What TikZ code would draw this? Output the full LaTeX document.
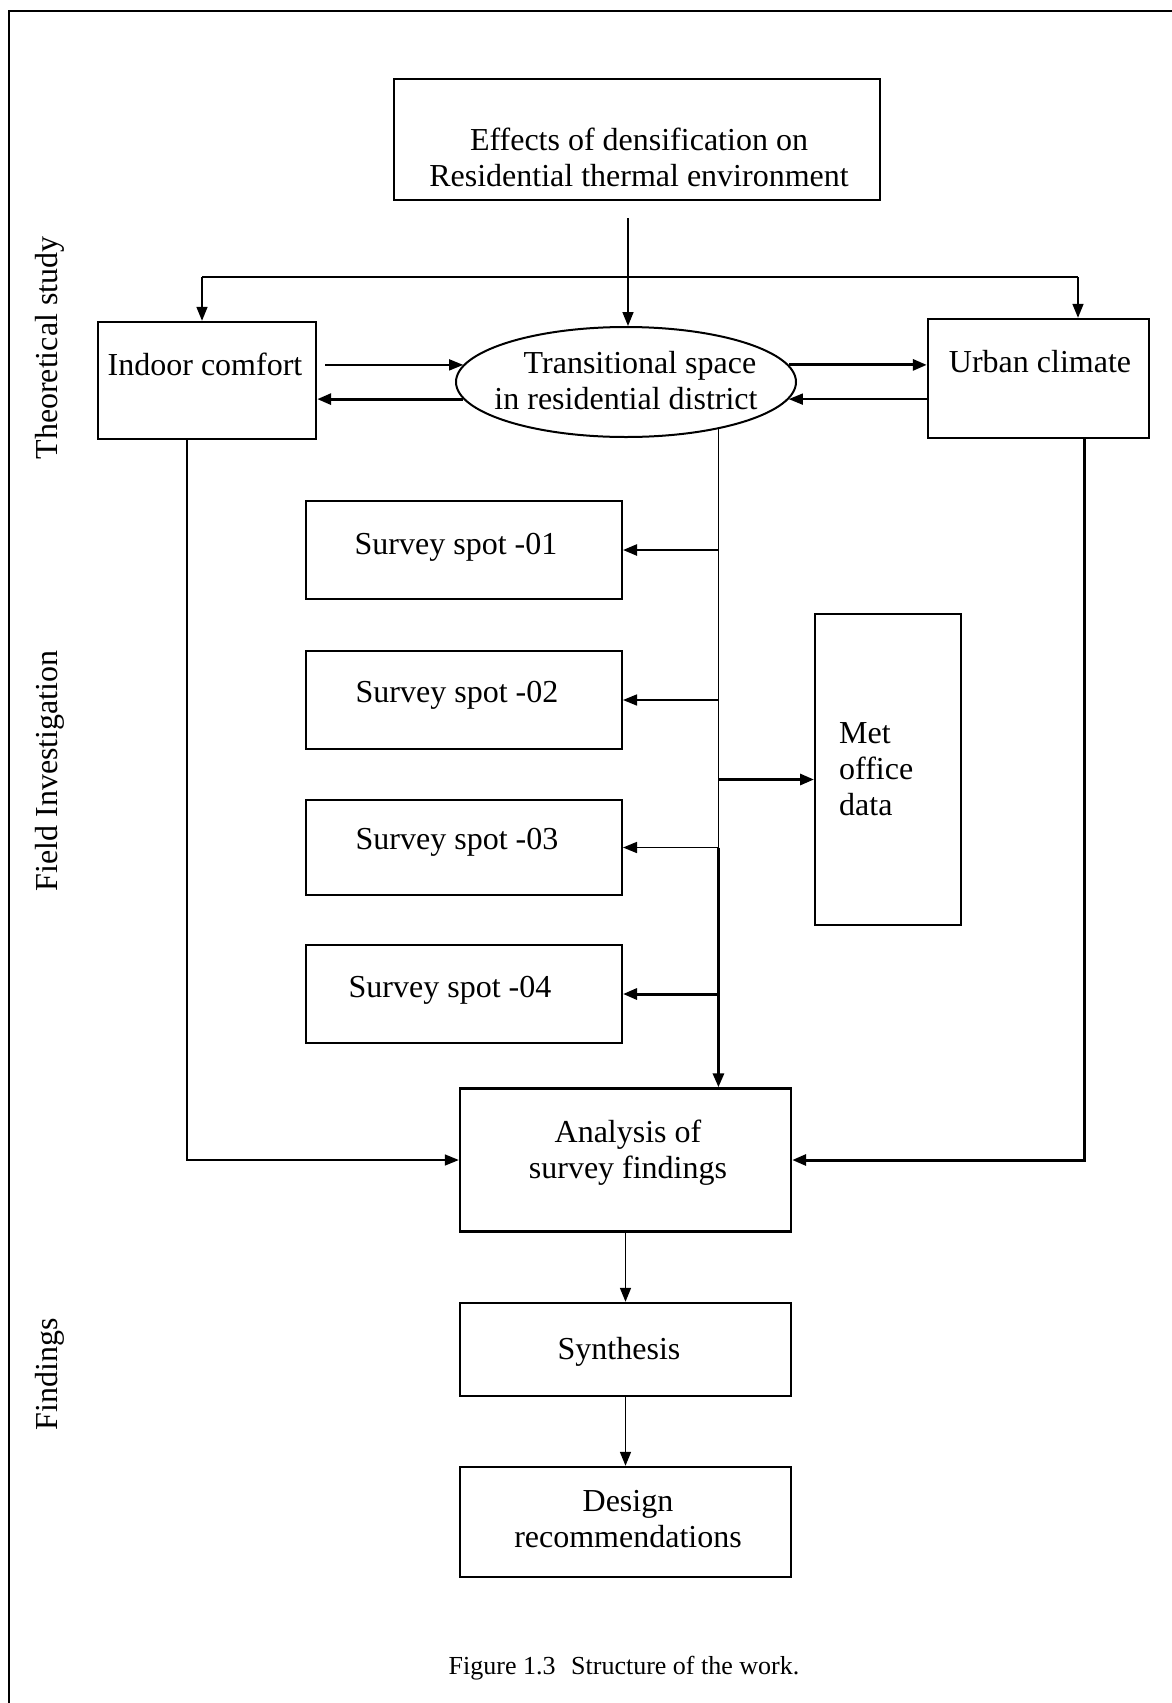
\documentclass[tikz,border=0pt]{standalone}
\usepackage{fontspec}
\setmainfont{Liberation Serif}
\usetikzlibrary{arrows.meta,shapes.geometric}
\begin{document}
\begin{tikzpicture}[x=1pt,y=-1pt,
  bx/.style={draw, line width=2.4pt, inner sep=0pt},
  sbx/.style={draw, line width=2pt, inner sep=0pt},
  lbl/.style={font=\fontsize{32}{36}\selectfont, align=center, inner sep=0pt},
  side/.style={font=\fontsize{32}{36}\selectfont, rotate=90, inner sep=0pt},
  ln/.style={line width=1.6pt},
  tarr/.style={line width=1.6pt, -{Triangle[length=14pt,width=11pt]}},
  Tarr/.style={line width=3pt, -{Triangle[length=14pt,width=11pt]}},
]
\useasboundingbox (0,0) rectangle (1172,1703);
\fill[white] (0,0) rectangle (1172,1703);
% frame
\coordinate (fbl) at (9,1703);
\coordinate (ftl) at (9,11);
\coordinate (ftr) at (1172,11);
\draw[line width=2pt] (fbl) -- (ftl) -- (ftr);

% boxes
\node[bx, minimum width=486pt, minimum height=121pt] (top) at (637,139.5) {};
\node[bx, minimum width=218pt, minimum height=117pt] (indoor) at (207,380.5) {};
\node[bx, minimum width=221pt, minimum height=119pt] (urban) at (1038.5,378.5) {};
\node[ellipse, draw, line width=2pt, minimum width=340pt, minimum height=110pt, inner sep=0pt] (ell) at (626,382) {};
\node[sbx, minimum width=316pt, minimum height=98pt] (s1) at (464,550) {};
\node[sbx, minimum width=316pt, minimum height=98pt] (s2) at (464,700) {};
\node[sbx, minimum width=316pt, minimum height=95pt] (s3) at (464,847.5) {};
\node[sbx, minimum width=316pt, minimum height=98pt] (s4) at (464,994) {};
\node[sbx, minimum width=146pt, minimum height=311pt] (met) at (888,769.5) {};
\node[bx, minimum width=331pt, minimum height=143pt] (anal) at (625.5,1160) {};
\node[bx, minimum width=331pt, minimum height=93pt] (synth) at (625.5,1349.5) {};
\node[bx, minimum width=331pt, minimum height=110pt] (design) at (625.5,1522) {};

% texts
\node[lbl] (toptxt) at (639,157.5) {Effects of densification on\\Residential thermal environment};
\node[lbl] (indtxt) at (205,364) {Indoor comfort};
\node[lbl] (urbtxt) at (1040,362) {Urban climate};
\node[lbl] (elltxt) at (626,381) {\hspace*{28pt}Transitional space\\in residential district};
\node[lbl] (s1txt) at (456,547) {Survey spot -01};
\node[lbl] (s2txt) at (457,695) {Survey spot -02};
\node[lbl] (s3txt) at (457,842.5) {Survey spot -03};
\node[lbl] (s4txt) at (450,990) {Survey spot -04};
\node[lbl, align=left, anchor=west] (mettxt) at (839,769) {Met\\office\\data};
\node[lbl] (antxt) at (628,1153) {Analysis of\\survey findings};
\node[lbl] (syntxt) at (619,1352) {Synthesis};
\node[lbl] (destxt) at (628,1519) {Design\\recommendations};
\node[side] (lab1) at (50,348) {Theoretical study};
\node[side] (lab2) at (50,771) {Field Investigation};
\node[side] (lab3) at (50,1374) {Findings};
\node[font=\fontsize{26}{30}\selectfont, inner sep=0pt] (cap) at (624,1668) {Figure 1.3\hspace{0.6em}Structure of the work.};

% top connectors
\coordinate (tv) at (628,218);
\draw[tarr] (tv) -- (tv |- ell.north);
\coordinate (hlL) at (202,277);
\coordinate (hlR) at (1078,277);
\draw[ln, line width=2pt] (hlL) -- (hlR);
\draw[tarr] (hlL) -- (hlL |- indoor.north);
\draw[tarr] (hlR) -- (hlR |- urban.north);

% ellipse connectors
\draw[tarr, shorten <=8pt] (indoor.east |- ell.174) -- (ell.174);
\draw[Tarr] (ell.186) -- (indoor.east |- ell.186);
\draw[Tarr] (ell.6) -- (urban.west |- ell.6);
\draw[tarr] (urban.west |- ell.354) -- (ell.354);

% central vertical
\draw[ln] (ell.333) -- (ell.333 |- s3.east);
\draw[Tarr] (ell.333 |- s3.east) -- (ell.333 |- anal.north);
\draw[Tarr, line width=2.4pt] (ell.333 |- s1.east) -- (s1.east);
\draw[tarr] (ell.333 |- s2.east) -- (s2.east);
\draw[tarr] (ell.333 |- s3.east) -- (s3.east);
\draw[Tarr] (ell.333 |- s4.east) -- (s4.east);
\coordinate (metin) at ([yshift=-10pt]met.west);
\draw[Tarr] (ell.333 |- metin) -- (metin);

% side verticals
\coordinate (lvx) at (187,0);
\coordinate (rvx) at (1084,0);
\draw[tarr] (lvx |- indoor.south) |- (anal.west);
\draw[Tarr] (rvx |- urban.south) |- (anal.east);

% bottom chain
\draw[tarr] (anal.south) -- (synth.north);
\draw[tarr] (synth.south) -- (design.north);
\end{tikzpicture}
\end{document}
